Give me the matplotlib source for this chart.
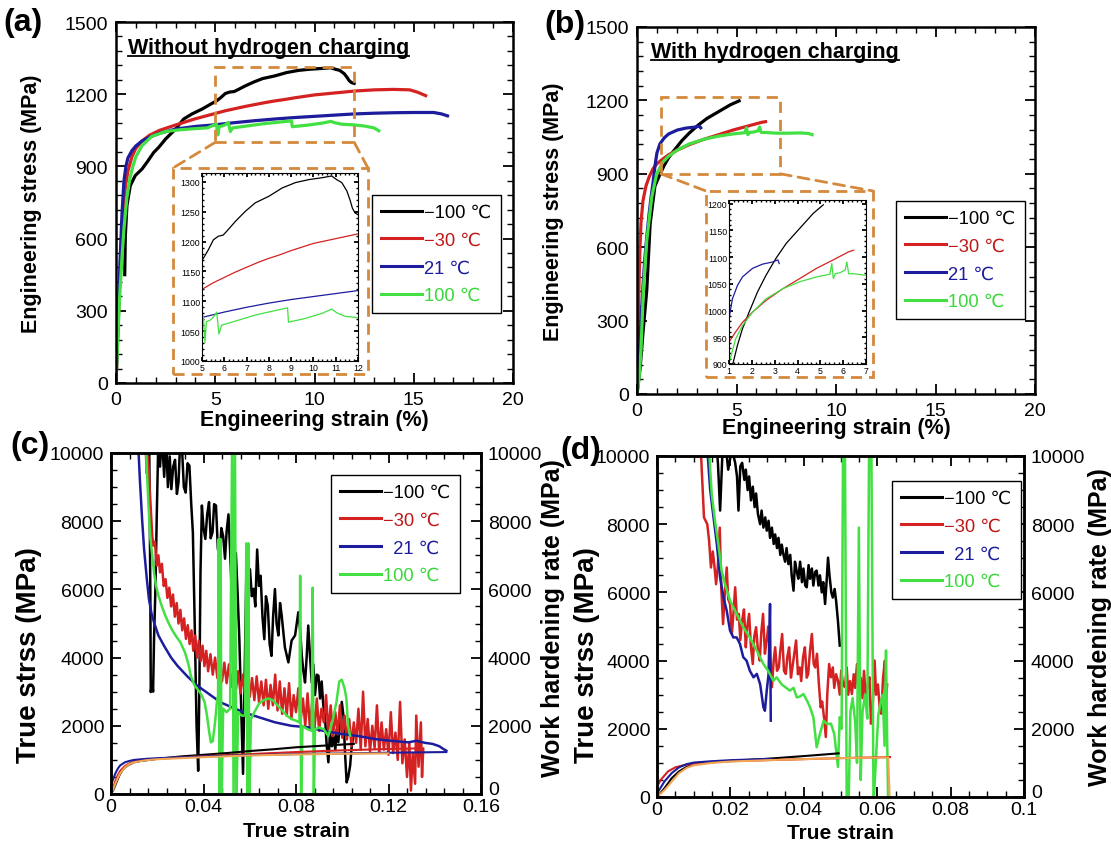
import matplotlib
matplotlib.use('Agg')
import matplotlib.pyplot as plt
from matplotlib.patches import Rectangle, ConnectionPatch
from matplotlib.lines import Line2D
from matplotlib.ticker import MultipleLocator, FuncFormatter

plt.rcParams['font.family'] = ['Liberation Sans', 'DejaVu Sans']
plt.rcParams['axes.unicode_minus'] = True

W, H = 1111, 845
fig = plt.figure(figsize=(W / 100, H / 100), dpi=100)


def frac_rect(l, t, r, b):
    return [l / W, 1 - b / H, (r - l) / W, (b - t) / H]


def fxy(x, y):
    return (x / W, 1 - y / H)


# ---------------- data ----------------
labels = ['\u2212100 \u2103', '\u221230 \u2103', '21 \u2103', '100 \u2103']
labels_cd = ['\u2212100 \u2103', '\u221230 \u2103', '  21 \u2103', '100 \u2103']
line_colors = ['#000000', '#d42222', '#1c1c9c', '#42e042']
text_colors = ['#000000', '#c01818', '#1c1c9c', '#3ad83a']
orange = '#f2a552'
box_color = '#d4893c'

# (a) without hydrogen: engineering strain (%), engineering stress (MPa)
a_strain_m100 = [0.44, 0.47, 0.55, 0.72, 0.97, 1.31, 1.56, 1.9, 2.15, 2.5, 3.0, 3.41, 3.83, 4.33, 4.84,
                 5.06, 5.28, 5.51, 5.73, 5.95, 6.1, 6.5, 6.95, 7.39, 8.0, 8.6, 9.2, 9.8, 10.37, 10.82,
                 11.04, 11.27, 11.5, 11.64, 11.75, 11.87, 12.0]
a_stress_m100 = [450, 612, 737, 820, 862, 889, 917, 958, 979, 1014, 1055, 1097, 1118, 1138, 1162,
                 1172, 1186, 1203, 1209, 1211, 1217, 1234, 1251, 1265, 1276, 1290, 1299, 1304, 1307, 1310,
                 1304, 1299, 1285, 1270, 1256, 1248, 1245]
a_strain_m30 = [0, 0.1, 0.2, 0.3, 0.4, 0.5, 0.6, 0.8, 1.0, 1.3, 1.7, 2.2, 3.0, 4.0, 5.0, 5.5, 6.0, 6.5,
                7.0, 7.5, 8.0, 8.5, 9.0, 9.5, 10.0, 10.5, 11.0, 11.5, 12.0, 13.0, 14.0, 14.8, 15.2, 15.6]
a_stress_m30 = [0, 220, 450, 640, 760, 830, 880, 940, 975, 1005, 1030, 1050, 1072, 1098, 1120, 1131,
                1140, 1149, 1157, 1165, 1172, 1178, 1185, 1191, 1197, 1201, 1205, 1209, 1213, 1218,
                1220, 1218, 1208, 1194]
a_strain_21 = [0, 0.1, 0.2, 0.3, 0.4, 0.5, 0.6, 0.8, 1.0, 1.3, 1.7, 2.2, 3.0, 4.0, 5.0, 6.0, 7.0, 8.0,
               9.0, 10.0, 11.0, 12.0, 13.0, 14.0, 15.0, 16.0, 16.4, 16.7]
a_stress_21 = [0, 250, 500, 700, 840, 900, 935, 965, 985, 1005, 1022, 1038, 1055, 1066, 1073, 1082,
               1090, 1097, 1103, 1108, 1113, 1118, 1121, 1123, 1124, 1124, 1118, 1110]
a_strain_100 = [0, 0.05, 0.1, 0.15, 0.2, 0.3, 0.4, 0.55, 0.7, 0.85, 1.0, 1.3, 1.8, 2.5, 3.2, 4.0, 4.6,
                5.06, 5.13, 5.2, 5.35, 5.5, 5.66, 5.76, 5.88, 6.6, 7.4, 8.1, 8.84, 8.88, 9.6, 10.4,
                10.82, 11.04, 11.4, 11.9, 12.5, 13.0, 13.24]
a_stress_100 = [0, 100, 200, 300, 380, 520, 640, 770, 850, 900, 940, 985, 1025, 1045, 1052, 1057, 1060,
                1076, 1031, 1066, 1068, 1073, 1082, 1045, 1060, 1068, 1077, 1083, 1089, 1065, 1071, 1080,
                1087, 1081, 1075, 1073, 1068, 1060, 1048]

# (b) with hydrogen
b_strain_m100 = [0, 0.15, 0.3, 0.49, 0.66, 0.9, 1.15, 1.37, 1.59, 1.88, 2.25, 2.62, 3.06, 3.51, 4.1,
                 4.69, 5.13]
b_stress_m100 = [0, 100, 250, 423, 695, 850, 897, 935, 966, 997, 1035, 1066, 1098, 1126, 1154, 1182, 1198]
b_strain_m30 = [0, 0.05, 0.1, 0.15, 0.2, 0.3, 0.45, 0.6, 0.8, 1.0, 1.29, 1.59, 2.03, 2.62, 3.36, 4.1,
                4.83, 5.57, 6.24, 6.46]
b_stress_m30 = [0, 250, 450, 600, 700, 790, 850, 885, 920, 941, 960, 978, 997, 1019, 1041, 1060, 1079,
                1095, 1110, 1113]
b_strain_21 = [0, 0.1, 0.2, 0.3, 0.4, 0.5, 0.6, 0.7, 0.8, 0.9, 1.0, 1.15, 1.37, 1.59, 2.03, 2.47, 2.92,
               3.14, 3.2]
b_stress_21 = [0, 150, 300, 440, 560, 650, 730, 800, 860, 930, 985, 1022, 1047, 1063, 1079, 1087, 1091,
               1095, 1088]
b_strain_100 = [0, 0.1, 0.2, 0.32, 0.49, 0.74, 0.99, 1.29, 1.59, 2.03, 2.62, 3.36, 4.1, 4.83, 5.42, 5.5,
                5.57, 5.65, 5.87, 6.09, 6.16, 6.24, 6.46, 7.0, 7.6, 8.2, 8.6, 8.8]
b_stress_100 = [0, 60, 180, 423, 627, 804, 900, 947, 972, 997, 1022, 1041, 1054, 1063, 1068, 1088, 1060,
                1069, 1071, 1076, 1091, 1069, 1069, 1066, 1066, 1067, 1065, 1060]

# (c) without hydrogen: true strain, work hardening rate (MPa)
c_whr_strain_m100 = [0.0165, 0.0170, 0.0172, 0.0178, 0.0182, 0.0186, 0.0192, 0.0198, 0.0205, 0.0212,
                     0.0220, 0.0230, 0.0238, 0.0246, 0.0254, 0.0261, 0.0269, 0.0277, 0.0285, 0.0292,
                     0.0300, 0.0308, 0.0315, 0.0323, 0.0331, 0.0339, 0.0347, 0.0354, 0.0362, 0.0370,
                     0.0377, 0.0382, 0.0387, 0.0393, 0.0400, 0.0408, 0.0416, 0.0424, 0.0431, 0.0439,
                     0.0446, 0.0454, 0.0462, 0.0470, 0.0477, 0.0485, 0.0493, 0.0500, 0.0508, 0.0516,
                     0.0524, 0.0532, 0.0540, 0.0548, 0.0555, 0.0563, 0.0571, 0.0578, 0.0586, 0.0594,
                     0.0601, 0.0609, 0.0617, 0.0624, 0.0632, 0.0640, 0.0647, 0.0655, 0.0663, 0.0670,
                     0.0678, 0.0686, 0.0694, 0.0701, 0.0709, 0.0716, 0.0724, 0.0731, 0.0738, 0.0752,
                     0.0767, 0.0781, 0.0796, 0.0810, 0.0818, 0.0825, 0.0832, 0.0839, 0.0846, 0.0853,
                     0.0860, 0.0868, 0.0875, 0.0882, 0.0890, 0.0897, 0.0904, 0.0911, 0.0918, 0.0925,
                     0.0932, 0.0940, 0.0947, 0.0955, 0.0962, 0.0970, 0.0976, 0.0983, 0.0990, 0.0998,
                     0.1005, 0.1012, 0.1019, 0.1026, 0.1034, 0.1041, 0.1048]
c_whr_m100 = [10500, 6000, 2990, 3300, 3000, 4500, 6000, 8200, 10500, 9600,
              10500, 9300, 10500, 9000, 9900, 8940, 9600, 9800, 8800, 9140,
              10500, 10000, 9000, 8840, 9700, 9630, 8500, 7670, 5000, 2000,
              680, 3000, 6500, 8460, 7800, 7480, 8200, 8560, 7500, 7670,
              8500, 8460, 7200, 6870, 7800, 7560, 6900, 7700, 8200, 7000,
              5520, 6500, 7070, 5800, 4540, 2500, 590, 3500, 6780, 6000,
              6590, 5800, 6020, 5500, 7170, 6100, 6400, 5200, 4540, 5800,
              5520, 4400, 4050, 5200, 6010, 5000, 4650, 5600, 5240, 4300,
              3860, 4500, 4650, 5330, 4800, 4060, 3600, 3270, 4000, 4940,
              4100, 3270, 3800, 2900, 3500, 3470, 2800, 3300, 2600, 2300,
              1500, 930, 1800, 1400, 1710, 1300, 1900, 1520, 2100, 2700,
              2300, 1200, 340, 500, 830, 1400, 1710]

c_whr_strain_m30 = [0.0150, 0.0155, 0.0160, 0.0168, 0.0173, 0.0178, 0.0183, 0.0190, 0.0198, 0.0205,
                    0.0212, 0.0220, 0.0228, 0.0236, 0.0244, 0.0252, 0.0260, 0.0268, 0.0276, 0.0284,
                    0.0292, 0.0300, 0.0308, 0.0316, 0.0324, 0.0332, 0.0340, 0.0348, 0.0356, 0.0364,
                    0.0372, 0.0380, 0.0388, 0.0396, 0.0404, 0.0412, 0.0420, 0.0430, 0.0440, 0.0450,
                    0.0460, 0.0470, 0.0480, 0.0490, 0.0500, 0.0510, 0.0520, 0.0530, 0.0540, 0.0550,
                    0.0560, 0.0570, 0.0580, 0.0590, 0.0600, 0.0610, 0.0620, 0.0630, 0.0640, 0.0650,
                    0.0660, 0.0670, 0.0680, 0.0690, 0.0700, 0.0710, 0.0720, 0.0730, 0.0740, 0.0750,
                    0.0760, 0.0770, 0.0780, 0.0790, 0.0800, 0.0810, 0.0820, 0.0830, 0.0840, 0.0850,
                    0.0860, 0.0870, 0.0880, 0.0890, 0.0900, 0.0910, 0.0920, 0.0930, 0.0940, 0.0950,
                    0.0960, 0.0970, 0.0980, 0.0990, 0.1000, 0.1010, 0.1020, 0.1030, 0.1040, 0.1050,
                    0.1060, 0.1070, 0.1080, 0.1090, 0.1100, 0.1110, 0.1120, 0.1130, 0.1140, 0.1150,
                    0.1160, 0.1170, 0.1180, 0.1190, 0.1200, 0.1210, 0.1220, 0.1230, 0.1240, 0.1250,
                    0.1260, 0.1270, 0.1280, 0.1290, 0.1297, 0.1305, 0.1315, 0.1320, 0.1330, 0.1340,
                    0.1345, 0.1350]
c_whr_m30 = [10100, 9400, 9900, 8900, 8260, 7600, 7280, 7400, 6700, 7000,
             6500, 6750, 6100, 6300, 5750, 6050, 5500, 5850, 5200, 5600,
             5000, 5400, 4800, 5150, 4550, 4950, 4400, 4800, 4200, 4650,
             4000, 4500, 3900, 4350, 3750, 4200, 3600, 4100, 3500, 4000,
             3400, 3900, 3300, 3850, 3250, 3800, 3150, 3700, 3050, 3600,
             2950, 3500, 2900, 3550, 2850, 3400, 2750, 3450, 2700, 3300,
             2600, 3350, 2500, 3200, 2600, 3500, 2450, 3300, 2350, 3100,
             2300, 3250, 2200, 2900, 2400, 3100, 2150, 2800, 2000, 2950,
             1950, 2700, 1900, 2800, 1850, 2500, 2100, 2900, 1800, 2600,
             1700, 2400, 1750, 2600, 1650, 2300, 1600, 2200, 1400, 2100,
             1500, 2500, 1300, 3000, 1400, 2200, 1250, 2000, 1350, 2600,
             1200, 2100, 1300, 1900, 1150, 2400, 1200, 1800, 1000, 2700,
             900, 1600, 500, 1500, 100, 1200, 300, 2300, 800, 2100,
             500, 1300]

c_whr_strain_21 = [0.0118, 0.0125, 0.0135, 0.0143, 0.0155, 0.0164, 0.0175, 0.0186, 0.0205, 0.0229,
                   0.0260, 0.0287, 0.0330, 0.0373, 0.0420, 0.0474, 0.0520, 0.0575, 0.0640, 0.0709,
                   0.0780, 0.0853, 0.0920, 0.0998, 0.1070, 0.1140, 0.1210, 0.1286, 0.1320, 0.1358,
                   0.1390, 0.1420, 0.1435, 0.1450]
c_whr_21 = [10200, 9200, 8000, 7185, 6300, 5719, 5300, 5034, 4650, 4350,
            4000, 3763, 3450, 3177, 2950, 2688, 2550, 2395, 2250, 2102,
            2000, 1955, 1850, 1760, 1700, 1613, 1560, 1515, 1560, 1500,
            1470, 1400, 1330, 1270]

c_whr_strain_100 = [0.0150, 0.0155, 0.0162, 0.0170, 0.0180, 0.0186, 0.0195, 0.0205, 0.0220, 0.0235,
                    0.0250, 0.0265, 0.0280, 0.0300, 0.0320, 0.0335, 0.0345, 0.0360, 0.0373, 0.0385,
                    0.0395, 0.0405, 0.0415, 0.0425, 0.0432, 0.0440, 0.0450, 0.0458, 0.0463, 0.0466,
                    0.0470, 0.0474, 0.0478, 0.0485, 0.0500, 0.0515, 0.0524, 0.0530, 0.0536, 0.0542,
                    0.0550, 0.0565, 0.0580, 0.0585, 0.0590, 0.0594, 0.0598, 0.0605, 0.0620, 0.0640,
                    0.0660, 0.0680, 0.0700, 0.0720, 0.0740, 0.0760, 0.0780, 0.0800, 0.0815, 0.0818,
                    0.0822, 0.0828, 0.0850, 0.0868, 0.0872, 0.0877, 0.0882, 0.0900, 0.0920, 0.0940,
                    0.0960, 0.0975, 0.0987, 0.0998, 0.1010, 0.1018, 0.1025, 0.1034]
c_whr_100 = [10500, 9500, 8500, 7500, 6900, 6500, 6100, 5820, 5500, 5230,
             5000, 4800, 4640, 4450, 4150, 3800, 3470, 3200, 3080, 2980,
             2850, 2690, 2300, 1800, 1515, 1550, 2100, 2700, 2900, 7480,
             -300, 7480, -300, 2500, 2400, 2500, 10500, -300, 10500, -300,
             2400, 2300, 2300, 7350, -300, 7350, -300, 2200, 2400, 2650,
             2750, 2800, 2750, 2600, 2450, 2300, 2200, 2150, 2100, 6400,
             -300, 2000, 1900, 1850, 6050, -300, 1900, 1950, 1900, 1700,
             2200, 2700, 3300, 3350, 3100, 2800, 2000, 1710]

c_ts_strain_m100 = [0, 0.001, 0.002, 0.003, 0.004, 0.005, 0.006, 0.008, 0.010, 0.013, 0.02, 0.03, 0.04,
                    0.05, 0.06, 0.07, 0.08, 0.09, 0.1, 0.105]
c_ts_m100 = [0, 120, 280, 450, 600, 700, 780, 870, 930, 970, 1030, 1100, 1150, 1200, 1260, 1310, 1370,
             1410, 1450, 1470]
c_ts_strain_m30 = [0, 0.001, 0.002, 0.003, 0.004, 0.006, 0.008, 0.01, 0.015, 0.02, 0.04, 0.06, 0.08, 0.1,
                   0.12, 0.135]
c_ts_m30 = [0, 200, 400, 560, 680, 820, 900, 950, 1000, 1030, 1110, 1170, 1230, 1280, 1320, 1340]
c_ts_strain_21 = [0, 0.001, 0.002, 0.003, 0.004, 0.006, 0.008, 0.01, 0.015, 0.02, 0.04, 0.06, 0.08, 0.1,
                  0.12, 0.145]
c_ts_21 = [250, 450, 620, 750, 840, 930, 970, 1000, 1030, 1050, 1100, 1140, 1170, 1190, 1210, 1230]
c_ts_strain_100 = [0, 0.001, 0.002, 0.003, 0.004, 0.006, 0.008, 0.01, 0.015, 0.02, 0.04, 0.06, 0.08, 0.1,
                   0.12]
c_ts_100 = [0, 150, 320, 480, 610, 780, 880, 930, 990, 1020, 1080, 1130, 1160, 1180, 1190]

# (d) with hydrogen
d_whr_strain_m100 = [0.0160, 0.0166, 0.0172, 0.0178, 0.0185, 0.0194, 0.0204, 0.0213, 0.0218, 0.0222,
                     0.0227, 0.0232, 0.0238, 0.0242, 0.0247, 0.0251, 0.0256, 0.0261, 0.0266, 0.0270,
                     0.0275, 0.0281, 0.0285, 0.0290, 0.0295, 0.0299, 0.0304, 0.0308, 0.0313, 0.0318,
                     0.0322, 0.0327, 0.0331, 0.0336, 0.0340, 0.0344, 0.0349, 0.0353, 0.0358, 0.0363,
                     0.0367, 0.0372, 0.0376, 0.0381, 0.0385, 0.0390, 0.0395, 0.0399, 0.0404, 0.0408,
                     0.0413, 0.0417, 0.0422, 0.0426, 0.0431, 0.0435, 0.0440, 0.0444, 0.0449, 0.0453,
                     0.0458, 0.0462, 0.0466, 0.0470, 0.0475, 0.0479, 0.0484, 0.0488, 0.0493, 0.0498]
d_whr_m100 = [10500, 9800, 8400, 10000, 10500, 9600, 10200, 9800, 9400, 8400,
              9700, 9800, 9300, 9600, 9000, 9400, 8700, 9100, 8500, 8900,
              8300, 8000, 8400, 7900, 8200, 7810, 8100, 7600, 7900, 7420,
              7700, 7300, 7600, 7100, 7400, 7130, 6900, 7300, 6830, 7100,
              6500, 6050, 6900, 6600, 6400, 6900, 6300, 6700, 6200, 6150,
              6800, 6400, 6700, 6200, 6600, 6640, 6200, 6500, 6000, 6300,
              5660, 6300, 7020, 6500, 6000, 5850, 6100, 5760, 5170, 4440]

d_whr_strain_m30 = [0.0118, 0.0128, 0.0137, 0.0142, 0.0147, 0.0152, 0.0156, 0.0161, 0.0166, 0.0171,
                    0.0175, 0.0180, 0.0185, 0.0190, 0.0194, 0.0199, 0.0204, 0.0209, 0.0213, 0.0218,
                    0.0223, 0.0227, 0.0232, 0.0237, 0.0242, 0.0246, 0.0251, 0.0256, 0.0261, 0.0265,
                    0.0270, 0.0275, 0.0280, 0.0284, 0.0289, 0.0294, 0.0299, 0.0303, 0.0308, 0.0313,
                    0.0318, 0.0322, 0.0327, 0.0332, 0.0336, 0.0341, 0.0346, 0.0351, 0.0355, 0.0360,
                    0.0365, 0.0369, 0.0374, 0.0379, 0.0384, 0.0389, 0.0393, 0.0398, 0.0403, 0.0408,
                    0.0412, 0.0417, 0.0422, 0.0427, 0.0431, 0.0436, 0.0441, 0.0446, 0.0450, 0.0455,
                    0.0460, 0.0464, 0.0469, 0.0474, 0.0479, 0.0483, 0.0488, 0.0493, 0.0498, 0.0502,
                    0.0507, 0.0512, 0.0517, 0.0521, 0.0526, 0.0531, 0.0536, 0.0540, 0.0545, 0.0550,
                    0.0555, 0.0560, 0.0564, 0.0569, 0.0574, 0.0579, 0.0583, 0.0588, 0.0593, 0.0597,
                    0.0602, 0.0607, 0.0611, 0.0616, 0.0621, 0.0624, 0.0627]
d_whr_m30 = [10500, 8200, 8000, 7510, 6730, 7200, 6830, 6240, 6800, 7900,
             6150, 5070, 6000, 6730, 5800, 5660, 4780, 5500, 6150, 5200,
             5370, 4600, 5170, 5500, 4390, 5000, 5370, 4400, 3900, 4700,
             4980, 4300, 4000, 4800, 5370, 4200, 4590, 5000, 4200, 3220,
             4000, 4390, 3700, 3800, 4300, 4780, 3700, 3610, 4100, 4390,
             3500, 3800, 4200, 4590, 3600, 3800, 3400, 4100, 4390, 3500,
             3610, 4300, 4780, 3900, 3800, 4200, 3320, 2630, 2800, 2340,
             1760, 3020, 3900, 3510, 3800, 3200, 3600, 3410, 3000, 3710,
             3300, 3220, 3800, 3000, 3400, 3020, 3600, 3200, 3900, 3100,
             3500, 2900, 3700, 2930, 3300, 3510, 2150, 2700, 4000, 3000,
             3300, 2600, 2440, 3500, 4000, 2800, 3300]

d_whr_strain_21 = [0.0135, 0.0145, 0.0154, 0.0163, 0.0172, 0.0181, 0.0190, 0.0199, 0.0208, 0.0217,
                   0.0226, 0.0235, 0.0244, 0.0253, 0.0263, 0.0272, 0.0281, 0.0290, 0.0294, 0.0299,
                   0.0304, 0.0308, 0.0310]
d_whr_21 = [10500, 9000, 8200, 7420, 6440, 5860, 5460, 4880, 4680, 4680,
            4490, 4100, 4000, 3700, 3510, 3610, 3310, 2630, 2530, 3120,
            3600, 5660, 2240]

d_whr_strain_100 = [0.0140, 0.0149, 0.0158, 0.0167, 0.0176, 0.0185, 0.0199, 0.0217, 0.0235, 0.0253,
                    0.0272, 0.0290, 0.0303, 0.0317, 0.0326, 0.0340, 0.0362, 0.0372, 0.0381, 0.0390,
                    0.0399, 0.0410, 0.0417, 0.0426, 0.0435, 0.0444, 0.0454, 0.0463, 0.0474, 0.0483,
                    0.0493, 0.0498, 0.0503, 0.0507, 0.0512, 0.0517, 0.0522, 0.0527, 0.0533, 0.0540,
                    0.0545, 0.0550, 0.0555, 0.0560, 0.0567, 0.0573, 0.0578, 0.0584, 0.0590, 0.0596,
                    0.0603, 0.0610, 0.0615, 0.0620, 0.0624, 0.0627, 0.0630]
d_whr_100 = [10500, 8890, 8100, 7420, 6640, 6250, 5760, 5370, 4980, 4680,
             4290, 3900, 3700, 3410, 3510, 3300, 3120, 3200, 2920, 2950,
             3020, 2800, 2630, 2340, 1460, 1850, 2240, 2140, 2150, 1850,
             880, 2340, 2000, 10500, 10500, -300, -300, 2500, 2900, 2200,
             1000, 7900, 500, 2500, 3000, 2300, 10500, 10500, -300, 1000,
             2400, 2800, 3000, 1500, 4300, 1800, -300]

d_ts_strain_m100 = [0, 0.002, 0.004, 0.006, 0.008, 0.01, 0.015, 0.02, 0.03, 0.04, 0.0495]
d_ts_m100 = [0, 250, 550, 750, 880, 950, 1020, 1060, 1120, 1200, 1280]
d_ts_strain_m30 = [0, 0.001, 0.003, 0.005, 0.008, 0.012, 0.02, 0.03, 0.04, 0.05, 0.0635]
d_ts_m30 = [300, 500, 750, 870, 950, 1000, 1050, 1080, 1110, 1140, 1170]
d_ts_strain_21 = [0, 0.002, 0.004, 0.006, 0.008, 0.01, 0.015, 0.02, 0.031]
d_ts_21 = [100, 450, 700, 870, 960, 1010, 1050, 1080, 1120]
d_ts_strain_100 = [0, 0.002, 0.004, 0.006, 0.008, 0.01, 0.015, 0.02, 0.03, 0.04, 0.05, 0.063, 0.0634]
d_ts_100 = [0, 200, 450, 700, 850, 930, 1000, 1040, 1080, 1110, 1140, 1160, 0]

# inset ranges / zoom windows
a_inset_xlim, a_inset_ylim = (5, 12), (1000, 1315)
b_inset_xlim, b_inset_ylim = (1, 7), (900, 1207)
b_zoom_box = (1.2, 900, 7.2, 1215)

# ---------------- helpers ----------------
TICK_FS = 14
LABEL_FS = 15.5
LEG_FS = 13.2


def style_axes(ax, xmaj, xmin, ymaj, ymin, fs=TICK_FS, spine_lw=1.8, maj_len=7, min_len=4, pad=6,
               xpad=None, right=True):
    ax.xaxis.set_major_locator(MultipleLocator(xmaj))
    ax.xaxis.set_minor_locator(MultipleLocator(xmin))
    ax.yaxis.set_major_locator(MultipleLocator(ymaj))
    ax.yaxis.set_minor_locator(MultipleLocator(ymin))
    ax.tick_params(which='both', direction='in', top=True, right=right, labelsize=fs, pad=pad)
    if xpad is not None:
        ax.tick_params(axis='x', which='both', pad=xpad)
    ax.tick_params(which='major', length=maj_len, width=1.3)
    ax.tick_params(which='minor', length=min_len, width=1.0)
    for sp in ax.spines.values():
        sp.set_linewidth(spine_lw)


def add_legend(ax, labs, l, t, fs=LEG_FS):
    handles = [Line2D([], [], color=c, lw=2.2) for c in line_colors]
    leg = ax.legend(handles, labs, loc='upper left', bbox_to_anchor=fxy(l, t),
                    bbox_transform=fig.transFigure, borderaxespad=0, frameon=True, fancybox=False,
                    edgecolor='black', framealpha=1, fontsize=fs, handlelength=2.25,
                    handletextpad=0.1, labelspacing=0.58, borderpad=0.5)
    leg.get_frame().set_linewidth(1.0)
    for txt, c in zip(leg.get_texts(), text_colors):
        txt.set_color(c)
    return leg


def dashed_fig_box(l, t, r, b):
    fig.add_artist(Rectangle(fxy(l, b), (r - l) / W, (b - t) / H, transform=fig.transFigure,
                             fill=False, ls=(0, (4, 2.5)), lw=2.0, ec=box_color))


def connector(ax, xy, px, py):
    cp = ConnectionPatch(xyA=xy, coordsA=ax.transData, xyB=fxy(px, py), coordsB=fig.transFigure,
                         ls=(0, (4, 2.5)), lw=2.0, color=box_color)
    fig.add_artist(cp)


strain_fmt = FuncFormatter(lambda v, p: '0' if abs(v) < 1e-12 else '%g' % round(v, 4))

# ---------------- panel (a) ----------------
axa = fig.add_axes(frac_rect(116, 23, 513, 384))
a_sets = [(a_strain_m100, a_stress_m100), (a_strain_m30, a_stress_m30),
          (a_strain_21, a_stress_21), (a_strain_100, a_stress_100)]
for (xs, ys), c in zip(a_sets, line_colors):
    axa.plot(xs, ys, color=c, lw=2.3)
axa.set_xlim(0, 20)
axa.set_ylim(0, 1500)
style_axes(axa, 5, 1, 300, 60)
axa.set_xlabel('Engineering strain (%)', fontsize=LABEL_FS, fontweight='bold')
axa.set_ylabel('Engineering stress (MPa)', fontsize=LABEL_FS, fontweight='bold')
axa.xaxis.set_label_coords(0.5, -0.072)
axa.yaxis.set_label_coords(-0.186, 0.5)
axa.add_patch(Rectangle((a_inset_xlim[0], a_inset_ylim[0]), a_inset_xlim[1] - a_inset_xlim[0],
                        a_inset_ylim[1] - a_inset_ylim[0], fill=False, ls=(0, (4, 2.5)), lw=2.0,
                        ec=box_color, zorder=5))
add_legend(axa, labels, 372, 196)

dashed_fig_box(173, 169, 368, 375)
connector(axa, (a_inset_xlim[0], a_inset_ylim[0]), 173, 169)
connector(axa, (a_inset_xlim[1], a_inset_ylim[0]), 368, 169)

axai = fig.add_axes(frac_rect(202, 174, 358, 362))
for (xs, ys), c in zip(a_sets, line_colors):
    axai.plot(xs, ys, color=c, lw=0.9)
axai.set_xlim(*a_inset_xlim)
axai.set_ylim(*a_inset_ylim)
style_axes(axai, 1, 0.2, 50, 10, fs=6.3, spine_lw=0.8, maj_len=3, min_len=1.5, pad=1.5)

# ---------------- panel (b) ----------------
axb = fig.add_axes(frac_rect(637, 28, 1035, 395))
b_sets = [(b_strain_m100, b_stress_m100), (b_strain_m30, b_stress_m30),
          (b_strain_21, b_stress_21), (b_strain_100, b_stress_100)]
for (xs, ys), c in zip(b_sets, line_colors):
    axb.plot(xs, ys, color=c, lw=2.3)
axb.set_xlim(0, 20)
axb.set_ylim(0, 1500)
style_axes(axb, 5, 1, 300, 60)
axb.set_xlabel('Engineering strain (%)', fontsize=LABEL_FS, fontweight='bold')
axb.set_ylabel('Engineering stress (MPa)', fontsize=LABEL_FS, fontweight='bold')
axb.xaxis.set_label_coords(0.5, -0.063)
axb.yaxis.set_label_coords(-0.183, 0.5)
x0, y0, x1, y1 = b_zoom_box
axb.add_patch(Rectangle((x0, y0), x1 - x0, y1 - y0, fill=False, ls=(0, (4, 2.5)), lw=2.0,
                        ec=box_color, zorder=5))
add_legend(axb, labels, 896, 202)

dashed_fig_box(706, 192, 873, 378)
connector(axb, (x0, y0), 706, 192)
connector(axb, (x1, y0), 873, 192)

axbi = fig.add_axes(frac_rect(729, 201, 866, 365))
for (xs, ys), c in zip(b_sets, line_colors):
    axbi.plot(xs, ys, color=c, lw=0.9)
axbi.set_xlim(*b_inset_xlim)
axbi.set_ylim(*b_inset_ylim)
style_axes(axbi, 1, 0.2, 50, 10, fs=6.3, spine_lw=0.8, maj_len=3, min_len=1.5, pad=1.5)


# ---------------- panels (c), (d) ----------------
def hardening_panel(rect, whr_sets, ts_sets, xmax, xmaj, xmin, leg_pos, ylab_xy, rlab_xy, xlab_y):
    ax = fig.add_axes(rect)
    for (xs, ys), c in zip(whr_sets, line_colors):
        ax.plot(xs, ys, color=c, lw=1.8)
    ts_colors = [line_colors[0], line_colors[1], line_colors[2], orange]
    for (xs, ys), c in zip(ts_sets, ts_colors):
        ax.plot(xs, ys, color=c, lw=1.5)
    ax.set_xlim(0, xmax)
    ax.set_ylim(0, 10000)
    style_axes(ax, xmaj, xmin, 2000, 500, right=False, pad=5, xpad=3)
    ax.xaxis.set_major_formatter(strain_fmt)
    ax.set_xlabel('True strain', fontsize=15, fontweight='bold')
    ax.set_ylabel('True strss (MPa)', fontsize=20, fontweight='bold')
    ax.xaxis.set_label_coords(0.5, xlab_y)
    ax.yaxis.set_label_coords(*ylab_xy)
    ax2 = ax.twinx()
    ax2.set_ylim(0, 10000)
    ax2.yaxis.set_major_locator(MultipleLocator(2000))
    ax2.yaxis.set_minor_locator(MultipleLocator(500))
    ax2.tick_params(which='both', direction='in', labelsize=TICK_FS, pad=5)
    ax2.tick_params(which='major', length=7, width=1.3)
    ax2.tick_params(which='minor', length=4, width=1.0)
    for sp in ax2.spines.values():
        sp.set_linewidth(1.8)
    ax2.set_ylabel('Work hardening rate (MPa)', fontsize=18, fontweight='bold')
    ax2.yaxis.set_label_coords(*rlab_xy)
    add_legend(ax2, labels_cd, *leg_pos)
    return ax, ax2


c_whr = [(c_whr_strain_m100, c_whr_m100), (c_whr_strain_m30, c_whr_m30),
         (c_whr_strain_21, c_whr_21), (c_whr_strain_100, c_whr_100)]
c_ts = [(c_ts_strain_m100, c_ts_m100), (c_ts_strain_m30, c_ts_m30),
        (c_ts_strain_21, c_ts_21), (c_ts_strain_100, c_ts_100)]
d_whr = [(d_whr_strain_m100, d_whr_m100), (d_whr_strain_m30, d_whr_m30),
         (d_whr_strain_21, d_whr_21), (d_whr_strain_100, d_whr_100)]
d_ts = [(d_ts_strain_m100, d_ts_m100), (d_ts_strain_m30, d_ts_m30),
        (d_ts_strain_21, d_ts_21), (d_ts_strain_100, d_ts_100)]

axc, axc2 = hardening_panel(frac_rect(111, 454, 481, 795), c_whr, c_ts, 0.16, 0.04, 0.008,
                            (331, 476), (-0.186, 0.41), (1.162, 0.52), -0.079)
axd, axd2 = hardening_panel(frac_rect(657, 457, 1024, 798), d_whr, d_ts, 0.1, 0.02, 0.005,
                            (892, 482), (-0.155, 0.42), (1.174, 0.5), -0.077)

# ---------------- titles and panel letters ----------------
t_a = fig.text(128 / W, 1 - 54 / H, 'Without hydrogen charging', fontsize=15.5, fontweight='bold',
               ha='left', va='baseline')
t_b = fig.text(651 / W, 1 - 58 / H, 'With hydrogen charging', fontsize=15.5, fontweight='bold',
               ha='left', va='baseline')
for lab, (px, py) in zip(['(a)', '(b)', '(c)', '(d)'], [(3, 8), (544, 10), (10, 431), (560, 436)]):
    fig.text(px / W, 1 - py / H, lab, fontsize=23, fontweight='bold', ha='left', va='top')

fig.canvas.draw()
# keep the right-axis "0" label clear of the strain tick label below it
for a2 in (axc2, axd2):
    for tk in a2.yaxis.get_major_ticks():
        if abs(tk.get_loc()) < 1e-9:
            tk.label2.set_verticalalignment('baseline')
renderer = fig.canvas.get_renderer()
for t, y_ul in [(t_a, 57), (t_b, 61)]:
    bb = t.get_window_extent(renderer)
    fig.add_artist(Line2D([bb.x0 / W, bb.x1 / W], [1 - y_ul / H, 1 - y_ul / H],
                          transform=fig.transFigure, color='black', lw=1.3))

fig.savefig('out.png', dpi=100)
